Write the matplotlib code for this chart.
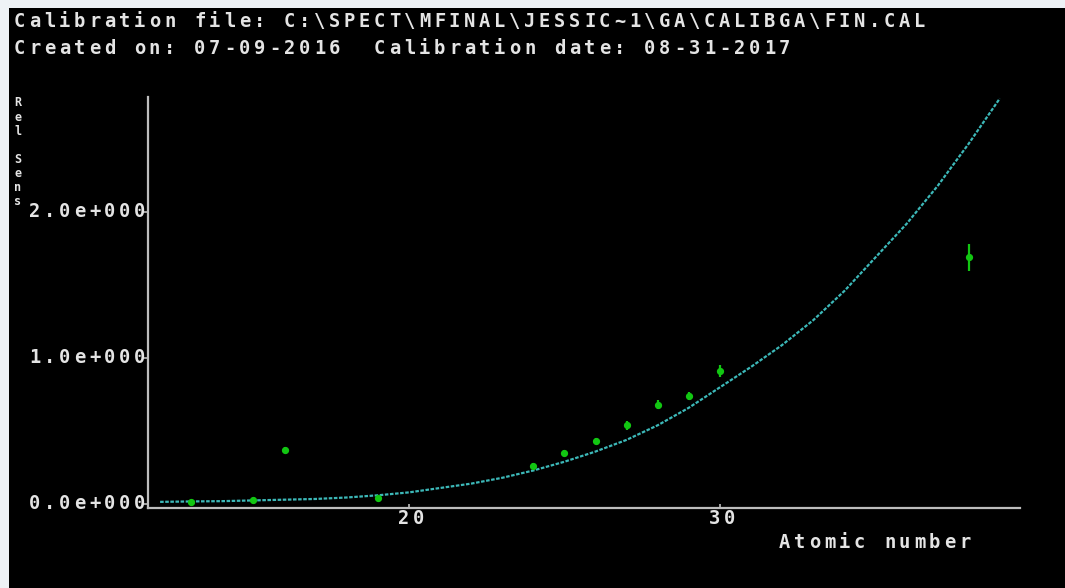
import matplotlib
matplotlib.use("Agg")
import matplotlib.pyplot as plt
from matplotlib.patches import Rectangle
from matplotlib.transforms import IdentityTransform

# --- dados ---
header_lines = [
    "Calibration file: C:\\SPECT\\MFINAL\\JESSIC~1\\GA\\CALIBGA\\FIN.CAL",
    "Created on: 07-09-2016  Calibration date: 08-31-2017",
]
ylabel = "Rel Sens"
xlabel = "Atomic number"

# pontos medidos (numero atomico, sensibilidade relativa, erro)
meas_z = [13, 15, 16, 19, 24, 25, 26, 27, 28, 29, 30, 38]
meas_val = [0.016, 0.03, 0.37, 0.04, 0.26, 0.35, 0.43, 0.54, 0.68, 0.74, 0.91, 1.69]
meas_err = [0.01, 0.01, 0.02, 0.01, 0.02, 0.02, 0.02, 0.03, 0.03, 0.03, 0.04, 0.09]

# curva de ajuste lida ponto a ponto
fit_z = [12, 13, 14, 15, 16, 17, 18, 19, 20, 21, 22, 23, 24, 25,
         26, 27, 28, 29, 30, 31, 32, 33, 34, 35, 36, 37, 38, 39]
fit_val = [0.015, 0.018, 0.02, 0.025, 0.03, 0.035, 0.045, 0.06, 0.08, 0.11,
           0.14, 0.18, 0.23, 0.29, 0.36, 0.44, 0.54, 0.66, 0.80, 0.94,
           1.09, 1.26, 1.46, 1.69, 1.92, 2.18, 2.47, 2.78]

yticks = [0.0, 1.0, 2.0]
ytick_labels = ["0.0e+000", "1.0e+000", "2.0e+000"]
xticks = [20, 30]
xtick_labels = ["20", "30"]

W, H = 1065, 588
CW = 15.0          # largura de uma celula de caractere (px)
TXT = "#e4e4e4"
FONT = dict(family="DejaVu Sans Mono", fontweight="bold", fontsize=13.5, color=TXT)

fig = plt.figure(figsize=(W / 100, H / 100), dpi=100, facecolor="black")
ax = fig.add_axes([148 / W, 1 - 508 / H, (1020 - 148) / W, (508 - 97) / H])
ax.set_facecolor("black")
ax.set_xlim(11.61, 39.65)
ax.set_ylim(-0.027, 2.79)

for side in ("top", "right"):
    ax.spines[side].set_visible(False)
for side in ("left", "bottom"):
    ax.spines[side].set_color("#bdbdbd")
    ax.spines[side].set_linewidth(1.6)

ax.set_yticks(yticks)
ax.set_xticks(xticks)
ax.set_yticklabels([])
ax.set_xticklabels([])
ax.tick_params(axis="y", direction="out", length=4, width=1.2, color="#bdbdbd")
ax.tick_params(axis="x", direction="in", length=3, width=1.2, color="#bdbdbd")

ax.plot(fit_z, fit_val, color="#3cb8b8", lw=1.6, linestyle=(0, (1.6, 0.7)), zorder=2)
ax.errorbar(meas_z, meas_val, yerr=meas_err, fmt="o", color="#12c612",
            ms=4.2, elinewidth=1.6, capsize=0, zorder=3)


def term_text(x_px, y_px, s, **kw):
    # texto em grade de caracteres fixa, como no terminal DOS
    for i, ch in enumerate(s):
        if ch == " ":
            continue
        fig.text(x_px + (i + 0.5) * CW, H - y_px, ch, transform=IdentityTransform(),
                 ha="center", va="center", **{**FONT, **kw})


term_text(12, 21.5, header_lines[0])
term_text(12, 48.5, header_lines[1])

# rotulo vertical empilhado (letras menores para nao se sobreporem)
for i, ch in enumerate(ylabel):
    if ch != " ":
        fig.text(18, H - (103 + i * 14.1), ch, transform=IdentityTransform(),
                 ha="center", va="center", **{**FONT, "fontsize": 8.5})

# rotulos dos ticks posicionados pelas escalas do eixo
for v, lab in zip(yticks, ytick_labels):
    _, yd = ax.transData.transform((ax.get_xlim()[0], v))
    term_text(147 - len(lab) * CW, H - yd - 1, lab)
for v, lab in zip(xticks, xtick_labels):
    xd, _ = ax.transData.transform((v, 0))
    term_text(xd - len(lab) * CW / 2 + 2, 519, lab)

term_text(777, 542, xlabel)

# moldura branca da captura de tela (topo e esquerda)
fig.patches.append(Rectangle((0, 1 - 8 / H), 1, 8 / H, transform=fig.transFigure,
                             facecolor="#eef2f6", edgecolor="none", zorder=5))
fig.patches.append(Rectangle((0, 0), 9 / W, 1, transform=fig.transFigure,
                             facecolor="#eef2f6", edgecolor="none", zorder=5))

fig.savefig("out.png", dpi=100, facecolor="black")
